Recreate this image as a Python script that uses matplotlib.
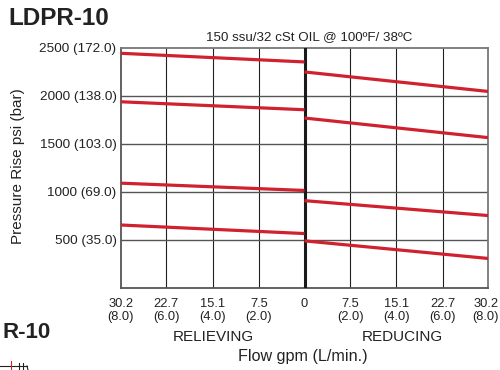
import matplotlib.pyplot as plt
from matplotlib.lines import Line2D
from matplotlib.transforms import ScaledTranslation

plt.rcParams['font.family'] = ['Liberation Sans', 'DejaVu Sans']

# flow tick positions (gpm) and labels
tick_pos = [-30.2, -22.7, -15.1, -7.5, 0, 7.5, 15.1, 22.7, 30.2]
tick_labels = ['30.2\n(8.0)', '22.7\n(6.0)', '15.1\n(4.0)', '7.5\n(2.0)', '0',
               '7.5\n(2.0)', '15.1\n(4.0)', '22.7\n(6.0)', '30.2\n(8.0)']
y_ticks = [500, 1000, 1500, 2000, 2500]
y_labels = ['500 (35.0)', '1000 (69.0)', '1500 (103.0)', '2000 (138.0)', '2500 (172.0)']

# pressure rise (psi) at both ends of each curve
relieving_start = [2440, 1936, 1090, 655]   # at 30.2 gpm
relieving_end = [2350, 1853, 1014, 566]     # at 0
reducing_start = [2246, 1767, 908, 490]     # at 0
reducing_end = [2043, 1563, 753, 307]       # at 30.2 gpm

red = '#d0212f'
ink = '#222222'

fig = plt.figure(figsize=(5, 3.7), dpi=100)
ax = fig.add_axes([0.2414, 0.2216, 0.9766 - 0.2414, 0.8716 - 0.2216])

# grid
for x in tick_pos:
    if x != 0 and abs(x) != 30.2:
        ax.axvline(x, color=ink, lw=0.8, zorder=1)
for y in y_ticks[:-1]:
    ax.axhline(y, color='#555555', lw=1.0, zorder=1)
ax.axvline(0, color='#1a1a1a', lw=2.2, zorder=3)

for a, b in zip(relieving_start, relieving_end):
    ax.plot([-30.2, 0], [a, b], color=red, lw=2.3, solid_capstyle='butt', zorder=4)
for a, b in zip(reducing_start, reducing_end):
    ax.plot([0, 30.2], [a, b], color=red, lw=2.3, solid_capstyle='butt', zorder=4)

ax.set_xlim(-30.2, 30.2)
ax.set_ylim(0, 2500)
ax.set_xticks(tick_pos)
ax.set_xticklabels(tick_labels, fontsize=9.3, linespacing=1.1)
ax.set_yticks(y_ticks)
ax.set_yticklabels(y_labels, fontsize=9.7)
ax.tick_params(axis='both', length=0, colors=ink)
ax.tick_params(axis='x', pad=7)
ax.tick_params(axis='y', pad=3)
# keep the last flow label inside the picture
last = ax.get_xticklabels()[-1]
last.set_transform(last.get_transform() + ScaledTranslation(-0.025, 0, fig.dpi_scale_trans))
for s in ax.spines.values():
    s.set_color('#777777')
    s.set_linewidth(1.3)
ax.spines['left'].set_color('#555555')
ax.spines['bottom'].set_color('#555555')

fig.text(18.5 / 500, 1 - 166 / 370, 'Pressure Rise psi (bar)', fontsize=11, color=ink,
         rotation=90, va='center', ha='center')
fig.text(8 / 500, 1 - 25 / 370, 'LDPR-10', fontsize=17.5, fontweight='bold',
         color=ink, va='baseline', ha='left')
fig.text(309 / 500, 1 - 37 / 370, '150 ssu/32 cSt OIL @ 100ºF/ 38ºC', fontsize=9.6,
         color=ink, va='center', ha='center')
fig.text(213 / 500, 1 - 337 / 370, 'RELIEVING', fontsize=11, color=ink,
         va='center', ha='center')
fig.text(402 / 500, 1 - 337 / 370, 'REDUCING', fontsize=11, color=ink,
         va='center', ha='center')
fig.text(303 / 500, 1 - 357 / 370, 'Flow gpm (L/min.)', fontsize=11.6, color=ink,
         va='center', ha='center')
fig.text(3 / 500, 1 - 337.5 / 370, 'R-10', fontsize=16, fontweight='bold',
         color=ink, va='baseline', ha='left')


# fragment of the next drawing at the bottom edge
def px(x, y):
    return x / 500, 1 - y / 370


for (x0, y0), (x1, y1), c in [((0, 366), (27, 366), ink),
                               ((19, 363), (19, 370), ink),
                               ((23, 363), (23, 370), ink),
                               ((27, 366), (28, 370), ink),
                               ((11, 361), (11, 370), red)]:
    (a, b), (c2, d) = px(x0, y0), px(x1, y1)
    fig.add_artist(Line2D([a, c2], [b, d], color=c, lw=0.8, transform=fig.transFigure))

fig.savefig('out.png', dpi=100)
